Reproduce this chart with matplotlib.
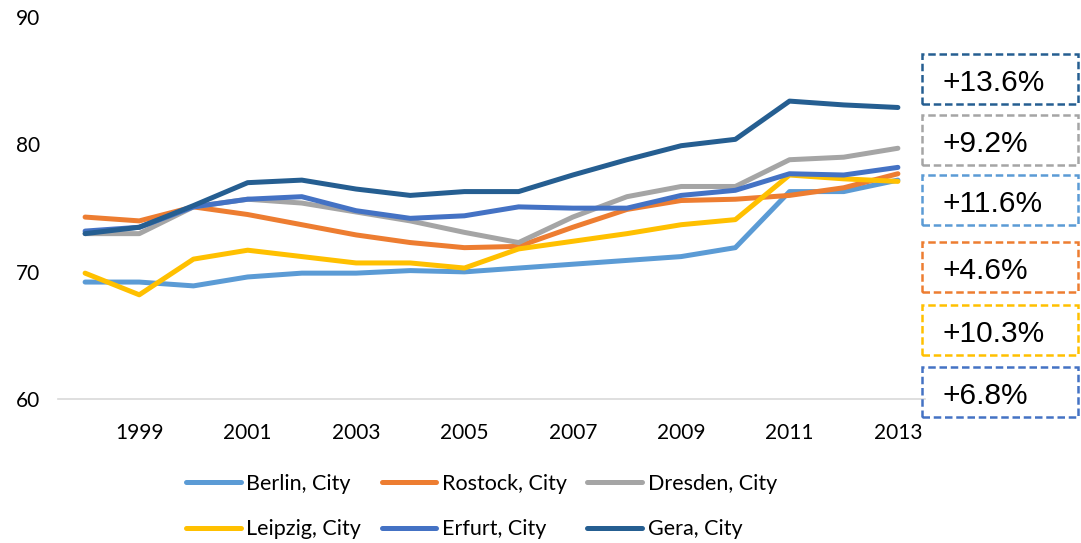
import matplotlib
matplotlib.use("Agg")
import matplotlib.pyplot as plt
from matplotlib.patches import Rectangle

years = list(range(1998, 2014))
berlin = [69.2, 69.2, 68.9, 69.6, 69.9, 69.9, 70.1, 70.0, 70.3, 70.6, 70.9, 71.2, 71.9, 76.3, 76.3, 77.2]
rostock = [74.3, 74.0, 75.1, 74.5, 73.7, 72.9, 72.3, 71.9, 72.0, 73.5, 74.9, 75.6, 75.7, 76.0, 76.6, 77.7]
dresden = [73.0, 73.0, 75.1, 75.7, 75.4, 74.7, 74.0, 73.1, 72.3, 74.3, 75.9, 76.7, 76.7, 78.8, 79.0, 79.7]
leipzig = [69.9, 68.2, 71.0, 71.7, 71.2, 70.7, 70.7, 70.3, 71.8, 72.4, 73.0, 73.7, 74.1, 77.6, 77.3, 77.1]
erfurt = [73.2, 73.5, 75.1, 75.7, 75.9, 74.8, 74.2, 74.4, 75.1, 75.0, 75.0, 76.0, 76.4, 77.7, 77.6, 78.2]
gera = [73.0, 73.5, 75.2, 77.0, 77.2, 76.5, 76.0, 76.3, 76.3, 77.6, 78.8, 79.9, 80.4, 83.4, 83.1, 82.9]

series_names = ["Berlin, City", "Rostock, City", "Dresden, City", "Leipzig, City", "Erfurt, City", "Gera, City"]
series_values = [berlin, rostock, dresden, leipzig, erfurt, gera]
colors = ["#5B9BD5", "#ED7D31", "#A5A5A5", "#FFC000", "#4472C4", "#255E91"]

xtick_labels = [1999, 2001, 2003, 2005, 2007, 2009, 2011, 2013]
yticks = [60, 70, 80, 90]

box_labels = ["+13.6%", "+9.2%", "+11.6%", "+4.6%", "+10.3%", "+6.8%"]
box_colors = ["#255E91", "#A5A5A5", "#5B9BD5", "#ED7D31", "#FFC000", "#4472C4"]

W, H = 1081, 543
fig = plt.figure(figsize=(W / 100, H / 100), dpi=100)
ax = fig.add_axes([58 / W, 1 - 399.3 / H, (925 - 58) / W, (399.3 - 17) / H])

tick_font = "Lato"
lines = []
for name, vals, c in zip(series_names, series_values, colors):
    ln, = ax.plot(years, vals, color=c, lw=3.6, label=name,
                  solid_capstyle="round", solid_joinstyle="round")
    lines.append(ln)

ax.set_xlim(1997.5, 2013.5)
ax.set_ylim(60, 90)
ax.set_xticks(xtick_labels)
ax.set_xticklabels([str(y) for y in xtick_labels], fontsize=15, family=tick_font)
ax.set_yticks(yticks)
ax.set_yticklabels([str(y) for y in yticks], fontsize=15, family=tick_font)
ax.tick_params(axis="x", length=0, pad=17)
ax.tick_params(axis="y", length=0, pad=13)
for s in ["top", "right", "left"]:
    ax.spines[s].set_visible(False)
ax.spines["bottom"].set_color("#D9D9D9")
ax.spines["bottom"].set_linewidth(1.2)

# Dashed annotation boxes
box_tops = [54, 115, 175, 242, 305, 367]
box_h = 50
for lab, col, top in zip(box_labels, box_colors, box_tops):
    r = Rectangle((922 / W, 1 - (top + box_h) / H), (1078 - 922) / W, box_h / H,
                  transform=fig.transFigure, fill=False, edgecolor=col, lw=1.8,
                  linestyle=(0, (3, 1.5)))
    fig.patches.append(r)
    fig.text(942 / W, 1 - (top + box_h / 2 + 4) / H, lab, fontsize=21.5,
             family="Liberation Sans", va="center", ha="left", color="black")

# legend filled row by row (matplotlib fills column-wise)
order = [0, 3, 1, 4, 2, 5]
leg = fig.legend([lines[i] for i in order], [series_names[i] for i in order],
                 loc="upper left", bbox_to_anchor=(186 / W, 1 - 474 / H), ncol=3,
                 frameon=False, prop={"family": tick_font, "size": 15.5},
                 handlelength=2.55, handletextpad=0.25, columnspacing=0.95,
                 labelspacing=1.18, borderpad=0, borderaxespad=0)

fig.savefig("out.png", dpi=100)
